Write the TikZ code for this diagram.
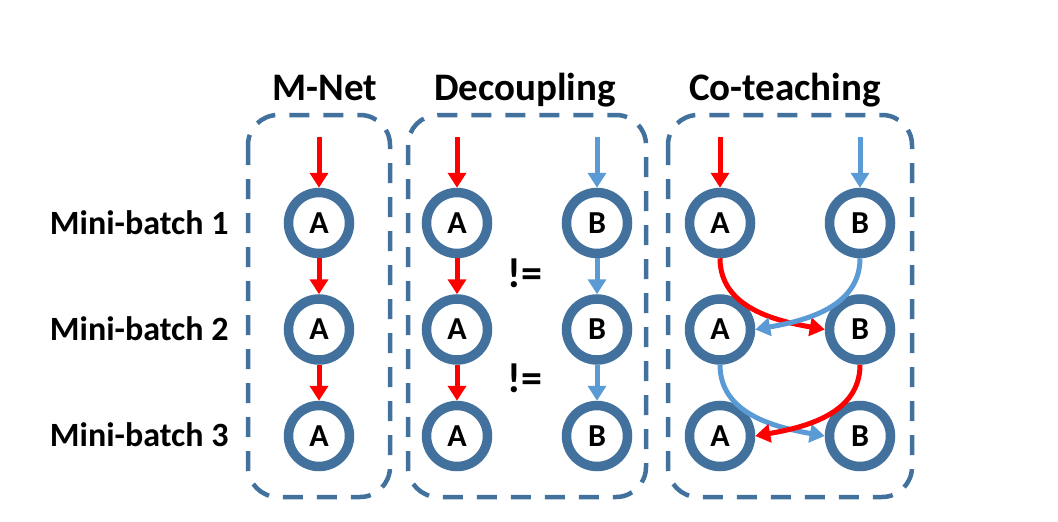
\documentclass[tikz,border=0pt]{standalone}
\usepackage{fontspec}
\setmainfont{Carlito}
\usetikzlibrary{positioning}
\usetikzlibrary{arrows.meta}
\usepackage{xcolor}
\definecolor{ringblue}{HTML}{41719C}
\definecolor{arrred}{HTML}{FF0000}
\definecolor{arrblue}{HTML}{5B9BD5}

\begin{document}
\begin{tikzpicture}[x=1pt, y=-1pt,
  net/.style={circle, draw=ringblue, line width=9.5pt, minimum size=61pt, inner sep=0pt,
    font=\fontsize{32}{32}\selectfont\bfseries},
  redarr/.style={draw=arrred, line width=5pt, -{Triangle[length=15pt,width=18pt]}},
  bluearr/.style={draw=arrblue, line width=5pt, -{Triangle[length=15pt,width=18pt]}},
  group/.style={draw=ringblue, line width=4.5pt, dash pattern=on 20pt off 14pt, rounded corners=30pt},
  title/.style={font=\fontsize{39}{39}\selectfont\bfseries, anchor=base},
  rowlabel/.style={font=\fontsize{34}{34}\selectfont\bfseries, anchor=east},
  noteq/.style={font=\fontsize{42}{42}\selectfont\bfseries}]
  \useasboundingbox (0,0) rectangle (1058,522);

  % dashed groups and titles
  \draw[group] (248,115) rectangle (390,497);
  \draw[group] (408,115) rectangle (646,497);
  \draw[group] (668,115) rectangle (912,497);
  \node[title] (tmnet) at (325,100) {M-Net};
  \node[title] (tdec) at (525,100) {Decoupling};
  \node[title] (tco) at (785,100) {Co-teaching};

  % M-Net
  \node[net] (m1) at (319,223) {A};
  \node[net, below=36pt of m1] (m2) {A};
  \node[net, below=36pt of m2] (m3) {A};
  \coordinate[above=51pt of m1] (m0);
  \draw[redarr] (m0) -- (m1);
  \draw[redarr] (m1) -- (m2);
  \draw[redarr] (m2) -- (m3);

  % row labels
  \node[rowlabel] (lab1) at (232,223) {Mini-batch 1};
  \node[rowlabel] (lab2) at (232,329) {Mini-batch 2};
  \node[rowlabel] (lab3) at (232,435) {Mini-batch 3};

  % Decoupling
  \node[net] (d1a) at (457,223) {A};
  \node[net, below=36pt of d1a] (d2a) {A};
  \node[net, below=36pt of d2a] (d3a) {A};
  \node[net] (d1b) at (597,223) {B};
  \node[net, below=36pt of d1b] (d2b) {B};
  \node[net, below=36pt of d2b] (d3b) {B};
  \coordinate[above=51pt of d1a] (d0a);
  \coordinate[above=51pt of d1b] (d0b);
  \draw[redarr] (d0a) -- (d1a);
  \draw[redarr] (d1a) -- (d2a);
  \draw[redarr] (d2a) -- (d3a);
  \draw[bluearr] (d0b) -- (d1b);
  \draw[bluearr] (d1b) -- (d2b);
  \draw[bluearr] (d2b) -- (d3b);
  \node[noteq] (ne1) at (525,273) {!=};
  \node[noteq] (ne2) at (525,378) {!=};

  % Co-teaching
  \node[net] (c1a) at (720,223) {A};
  \node[net, below=36pt of c1a] (c2a) {A};
  \node[net, below=36pt of c2a] (c3a) {A};
  \node[net] (c1b) at (860,223) {B};
  \node[net, below=36pt of c1b] (c2b) {B};
  \node[net, below=36pt of c2b] (c3b) {B};
  \coordinate[above=51pt of c1a] (c0a);
  \coordinate[above=51pt of c1b] (c0b);
  \draw[redarr] (c0a) -- (c1a);
  \draw[bluearr] (c0b) -- (c1b);
  \draw[redarr] (c1a.south) to[out=-90, in=170] (c2b.west);
  \draw[bluearr] (c1b.south) to[out=-90, in=10] (c2a.east);
  \draw[bluearr] (c2a.south) to[out=-90, in=170] (c3b.west);
  \draw[redarr] (c2b.south) to[out=-90, in=10] (c3a.east);
\end{tikzpicture}
\end{document}
